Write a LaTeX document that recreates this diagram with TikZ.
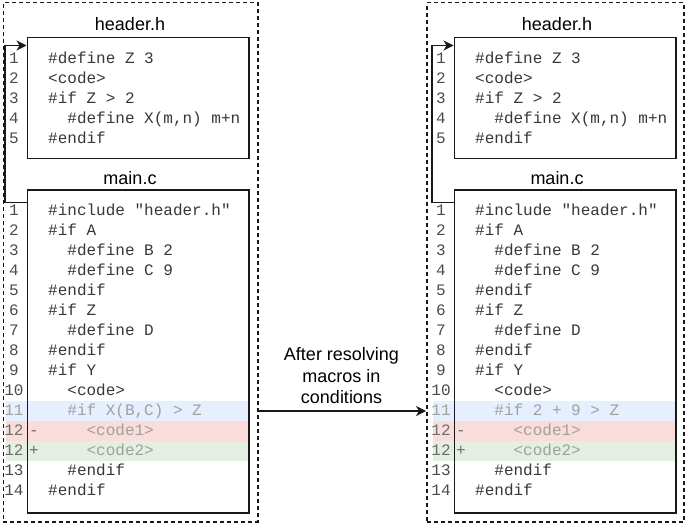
\documentclass[tikz,border=0pt]{standalone}
\usepackage{fontspec}
\setmainfont{Liberation Sans}
\setmonofont{Liberation Mono}
\usetikzlibrary{arrows.meta}
\definecolor{bandblue}{RGB}{229,239,253}
\definecolor{bandred}{RGB}{250,221,219}
\definecolor{bandgreen}{RGB}{226,239,225}
\definecolor{numgray}{RGB}{75,75,75}
\definecolor{codegray}{RGB}{55,55,55}
\definecolor{fadegray}{RGB}{160,160,160}
\definecolor{midgray}{RGB}{110,110,110}
\newcommand\monofnt{\ttfamily\fontsize{16bp}{20bp}\selectfont}
\newcommand\ttlfnt{\fontsize{18bp}{21.5bp}\selectfont}
\newcommand\drawpanel[2]{%
  \node[band, fill=bandblue] (#1bandA) at (6,401) {};
  \node[band, fill=bandred] (#1bandB) at (6,421) {};
  \node[band, fill=bandgreen] (#1bandC) at (6,441) {};
  \node[codebox, minimum height=121bp] (#1hdr) at (26.5,37) {};
  \node[codebox, minimum height=322.5bp] (#1main) at (26.5,189.5) {};
  \node[ttl] (#1hdrT) at (130,30.5) {header.h};
  \node[ttl] (#1mainT) at (130,185) {main.c};
  \foreach \r/\lv/\t in {1/0/{\#define Z 3},2/0/{<code>},3/0/{\#if Z > 2},4/1/{\#define X(m,n) m+n},5/0/{\#endif}}{
    \node[num] (#1hn\r) at (14,{43.5+20*\r}) {\r};
    \node[code] (#1hc\r) at ({48+19.2*\lv},{43.5+20*\r}) {\t};
  }
  \foreach \r/\l/\cc in {1/1/numgray,2/2/numgray,3/3/numgray,4/4/numgray,5/5/numgray,6/6/numgray,7/7/numgray,8/8/numgray,9/9/numgray,10/10/numgray,11/11/fadegray,12/12/midgray,13/12/midgray,14/13/numgray,15/14/numgray}{
    \node[num, text=\cc] (#1mn\r) at (14,{195.5+20*\r}) {\l};
  }
  \foreach \r/\lv/\t in {1/0/{\#include "header.h"},2/0/{\#if A},3/1/{\#define B 2},4/1/{\#define C 9},5/0/{\#endif},6/0/{\#if Z},7/1/{\#define D},8/0/{\#endif},9/0/{\#if Y},10/1/{<code>},14/1/{\#endif},15/0/{\#endif}}{
    \node[code] (#1mc\r) at ({48+19.2*\lv},{195.5+20*\r}) {\t};
  }
  \node[code, text=fadegray] (#1mc11) at (67.2,415.5) {#2};
  \node[code, text=fadegray] (#1mc12) at (86.4,435.5) {<code1>};
  \node[code, text=fadegray] (#1mc13) at (86.4,455.5) {<code2>};
  \node[num, text=midgray] (#1minus) at (34,435.5) {-};
  \node[num, text=midgray] (#1plus) at (34,455.5) {+};
  \coordinate (#1bend) at (5,45.5);
  \draw[conn] ([yshift=-13bp]#1main.north west) -| (#1bend) -- (#1hdr.north west |- #1bend);
}
\begin{document}
\begin{tikzpicture}[x=1bp,y=-1bp,
  codebox/.style={draw=black!90, line width=1.5bp, minimum width=221.5bp, anchor=north west, inner sep=0pt},
  container/.style={draw=black!90, line width=1.5bp, dash pattern=on 4bp off 3bp, anchor=north west, inner sep=0pt},
  band/.style={anchor=north west, minimum width=242bp, minimum height=20bp, inner sep=0pt, outer sep=0pt},
  num/.style={font=\monofnt, anchor=base, inner sep=0pt, text=numgray},
  code/.style={font=\monofnt, anchor=base west, inner sep=0pt, text=codegray},
  ttl/.style={font=\ttlfnt, anchor=base, inner sep=0pt},
  lbl/.style={font=\ttlfnt, align=center, inner sep=0pt},
  conn/.style={line width=1.5bp, draw=black!90, -{Stealth[length=10bp,width=10bp,inset=3bp]}}]
\useasboundingbox (0,0) rectangle (685,523);
\node[container, minimum width=254.5bp, minimum height=519bp] (Lcont) at (2.5,2) {};
\node[container, minimum width=257bp, minimum height=519bp] (Rcont) at (426,2) {};
\drawpanel{L}{\#if X(B,C) > Z}
\begin{scope}[shift={(427,0)}]
\drawpanel{R}{\#if 2 + 9 > Z}
\end{scope}
\coordinate (arrowy) at (0,411);
\draw[conn] (Lcont.east |- arrowy) -- (Rcont.west |- arrowy);
\node[lbl, anchor=south] (lbl) at (341.5,404) {After resolving\\macros in\\conditions};
\end{tikzpicture}
\end{document}
